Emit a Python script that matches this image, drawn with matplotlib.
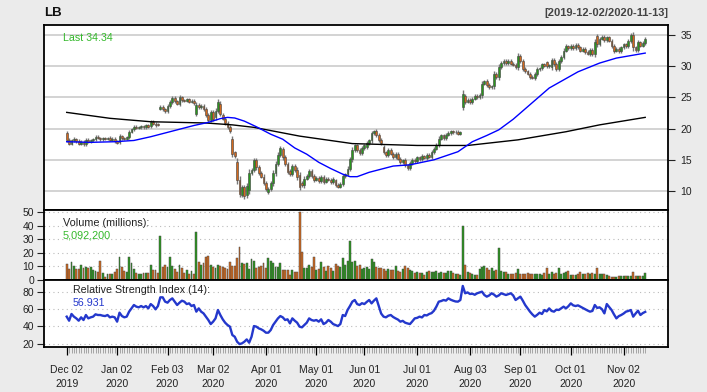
import numpy as np
import pandas as pd
import matplotlib
matplotlib.use("Agg")
import matplotlib.pyplot as plt

plt.rcParams["font.family"] = ["Liberation Sans", "DejaVu Sans"]

# trading days shown on the chart
holidays = ["2019-12-25", "2020-01-01", "2020-01-20", "2020-02-17", "2020-04-10",
            "2020-05-25", "2020-07-03", "2020-09-07"]
dates = pd.bdate_range("2019-12-02", "2020-11-13")
dates = dates[~dates.isin(pd.to_datetime(holidays))]

opens = [
    19.3, 18.2, 17.6, 18.1, 18.3, 18.0, 17.6, 17.9, 17.5, 18.2, 17.9, 18.1, 18.3, 18.7, 18.5, 18.3, 18.5, 18.4, 18.5, 18.2, 18.4,
    18.0, 17.9, 18.8, 18.5, 18.4, 18.6, 19.5, 19.9, 20.3, 20.1, 20.2, 20.4, 20.2, 20.5, 20.4, 21.1, 20.8, 20.7, 23.2, 23.5, 23.1,
    22.8, 23.6, 24.3, 24.9, 24.4, 24.0, 25.0, 24.6, 24.5, 24.7, 24.3, 24.5, 22.4, 23.8, 23.4, 23.7, 23.1, 22.2, 21.4,
    22.6, 21.8, 22.9, 24.0, 22.2, 21.6, 20.9, 20.3, 18.3, 16.2, 14.6, 11.8, 9.4, 10.6, 9.3, 10.2, 12.9, 13.4, 14.9, 13.8, 12.9, 12.3,
    11.3, 9.8, 10.4, 11.3, 12.9, 14.4, 15.8, 16.7, 15.4, 14.3, 13.2, 12.8, 14.0, 13.4, 12.6, 11.3, 10.9, 12.0, 12.4, 13.2, 12.4,
    11.8, 12.1, 11.6, 12.2, 11.5, 12.0, 11.8, 11.4, 11.7, 11.0, 10.7, 11.2, 12.4, 12.7, 13.6, 15.1, 16.6, 17.3, 16.6, 16.1,
    16.9, 17.1, 17.7, 18.1, 19.3, 19.6, 19.0, 18.2, 17.0, 16.2, 15.8, 16.6, 16.0, 15.4, 15.9, 15.2, 14.6, 14.9, 14.1, 13.7, 14.5, 15.0,
    14.8, 15.4, 15.1, 15.6, 15.3, 15.8, 15.5, 16.2, 16.8, 17.4, 18.4, 18.9, 18.5, 19.0, 19.3, 19.6, 19.4, 19.5, 19.2, 23.5, 25.2, 24.3,
    24.6, 24.2, 24.8, 25.3, 25.0, 25.4, 27.2, 27.6, 27.0, 26.6, 26.8, 28.8, 28.2, 29.9, 30.5, 30.9, 30.5, 30.9, 30.4, 30.2, 29.8,
    31.6, 30.8, 29.6, 29.2, 28.8, 28.3, 28.1, 28.8, 29.5, 29.7, 30.3, 30.6, 30.0, 29.8, 31.0, 30.3, 29.6, 30.8, 31.5, 32.5, 33.2,
    32.9, 33.3, 32.9, 33.4, 33.0, 32.5, 32.8, 32.3, 32.0, 32.6, 32.0, 34.8, 33.5, 34.4, 34.7, 34.2, 34.6, 34.1, 33.3, 32.5, 32.8, 32.4,
    33.0, 33.5, 33.2, 34.0, 35.0, 33.0, 32.6, 33.8, 33.3, 33.7,
]
closes = [
    18.2, 17.6, 18.1, 18.4, 18.0, 17.6, 17.9, 17.5, 18.2, 17.9, 18.1, 18.3, 18.7, 18.5, 18.3, 18.5, 18.4, 18.5, 18.2, 18.4, 18.0,
    17.7, 18.8, 18.5, 18.4, 18.6, 19.5, 19.9, 20.3, 20.1, 20.2, 20.4, 20.2, 20.5, 20.3, 21.1, 20.8, 20.5, 20.6, 23.5, 23.1, 22.8,
    23.6, 24.3, 24.9, 24.4, 24.0, 25.0, 24.6, 24.5, 24.7, 24.3, 24.5, 24.1, 23.8, 23.4, 23.7, 23.1, 22.2, 21.4, 22.6,
    21.6, 22.9, 24.3, 22.4, 21.6, 20.9, 20.2, 19.6, 16.0, 15.6, 11.8, 9.6, 10.6, 9.2, 10.8, 12.9, 13.4, 14.9, 13.8, 12.9, 12.3, 11.3,
    10.3, 10.4, 11.3, 12.9, 14.4, 15.8, 16.9, 15.4, 14.3, 13.1, 12.7, 14.0, 13.4, 12.2, 10.7, 10.9, 12.0, 12.4, 13.2, 12.4, 11.8,
    12.1, 11.6, 12.2, 11.5, 12.0, 11.8, 11.4, 11.9, 11.0, 10.7, 11.2, 12.4, 12.7, 13.6, 15.1, 16.6, 17.3, 16.6, 16.1, 16.9,
    17.3, 17.7, 18.1, 19.3, 19.6, 19.0, 18.2, 17.7, 16.2, 15.7, 16.6, 16.0, 15.4, 15.9, 15.2, 14.6, 14.9, 14.1, 13.7, 14.5, 15.0, 14.8,
    15.4, 15.1, 15.6, 15.3, 15.8, 15.5, 16.2, 16.8, 17.4, 18.4, 18.9, 18.5, 19.0, 19.3, 19.6, 19.4, 19.5, 19.2, 19.4, 25.6, 24.3, 24.6,
    24.2, 24.8, 25.3, 25.0, 25.4, 27.2, 27.6, 27.0, 26.6, 26.8, 28.8, 28.2, 29.9, 30.5, 30.9, 30.5, 30.9, 30.4, 30.2, 29.8, 31.6,
    30.8, 29.6, 29.2, 28.8, 28.3, 28.1, 28.8, 29.5, 29.7, 30.3, 30.1, 30.0, 30.2, 31.0, 30.3, 29.6, 30.8, 31.5, 32.5, 33.2, 32.9,
    33.3, 32.9, 33.4, 33.0, 32.5, 32.8, 32.3, 32.0, 32.6, 32.0, 33.9, 33.5, 34.4, 34.7, 34.2, 34.6, 34.1, 33.3, 32.5, 32.8, 32.4, 33.0,
    33.5, 33.2, 34.0, 35.0, 33.0, 32.6, 33.8, 33.3, 33.7, 34.34,
]
# volume in millions
volume = [
    11.8, 8.1, 13.0, 10.3, 7.9, 7.9, 11.0, 8.6, 9.9, 8.6, 9.9, 7.4, 6.9, 6.2, 14.3, 5.4, 2.5, 4.4, 4.4, 4.4, 6.2,
    8.1, 16.7, 9.9, 6.7, 6.2, 16.7, 12.3, 8.1, 4.9, 4.4, 4.4, 5.4, 5.4, 4.9, 11.1, 7.4, 7.4, 4.9, 32.5, 9.9, 11.1,
    9.9, 16.7, 10.3, 7.9, 6.2, 11.1, 9.1, 5.4, 7.4, 4.4, 6.9, 4.4, 35.0, 13.3, 11.1, 12.3, 16.7, 17.7, 11.1,
    9.9, 8.6, 10.8, 10.3, 9.9, 8.6, 7.9, 13.5, 10.3, 10.3, 16.0, 24.6, 12.3, 11.8, 12.8, 8.1, 15.3, 14.3, 8.6, 9.9, 10.3, 12.3,
    8.6, 16.0, 14.0, 12.3, 9.9, 9.9, 12.3, 7.4, 7.4, 7.4, 3.7, 7.4, 6.2, 6.2, 50.0, 20.4, 8.6, 9.1, 11.1, 9.9, 17.2,
    7.4, 8.1, 13.5, 9.9, 6.9, 10.3, 8.6, 6.7, 11.6, 10.6, 9.9, 16.0, 11.1, 14.3, 29.0, 13.0, 14.0, 10.6, 11.1, 8.1,
    8.6, 9.9, 7.9, 15.3, 13.5, 9.9, 8.6, 8.6, 8.1, 6.9, 7.9, 7.4, 7.4, 10.3, 6.9, 6.2, 7.9, 10.3, 8.6, 7.4, 6.7, 5.4,
    6.2, 5.4, 4.9, 3.7, 6.2, 6.9, 6.2, 6.2, 6.7, 5.4, 6.2, 4.9, 5.4, 6.7, 6.7, 5.4, 4.4, 4.4, 4.0, 39.4, 11.1, 6.2,
    5.4, 4.4, 3.7, 3.7, 7.8, 9.8, 10.3, 8.6, 7.4, 8.8, 6.9, 7.4, 23.4, 6.9, 6.1, 6.1, 4.4, 4.4, 4.4, 4.9, 7.8,
    4.4, 4.4, 4.4, 4.9, 4.4, 4.4, 4.4, 4.2, 4.2, 3.7, 4.9, 8.6, 4.4, 6.1, 4.4, 4.9, 8.6, 4.4, 5.4, 6.1, 6.6,
    3.7, 3.7, 3.7, 4.4, 6.1, 4.4, 4.4, 4.9, 4.4, 5.4, 4.4, 8.6, 4.4, 4.4, 4.4, 3.7, 3.2, 2.0, 2.0, 2.5, 3.2, 3.2,
    3.2, 3.2, 3.2, 3.2, 5.9, 3.2, 3.2, 3.2, 3.2, 5.0922,
]
rsi = [
    51.4, 46.7, 54.5, 51.4, 49.4, 46.7, 50.6, 47.5, 53.3, 49.4, 50.6, 51.4, 54.1, 53.3, 53.3, 52.5, 52.1, 53.3, 50.6, 51.4, 50.6,
    45.6, 56.0, 52.1, 50.6, 51.4, 57.2, 61.0, 64.9, 63.0, 62.2, 63.7, 62.2, 63.7, 61.0, 66.0, 63.7, 59.9, 63.7, 73.8, 73.8, 68.8,
    67.6, 70.7, 72.6, 68.8, 64.9, 67.6, 69.9, 68.8, 66.0, 66.8, 63.7, 64.9, 57.2, 61.0, 57.2, 55.2, 51.4, 47.5, 42.8,
    45.6, 49.4, 59.1, 53.3, 48.3, 44.4, 41.7, 39.8, 30.1, 28.1, 22.3, 19.6, 20.4, 22.3, 25.0, 21.2, 28.1, 40.5, 39.8, 37.8, 36.7, 35.1,
    32.8, 32.8, 35.9, 41.7, 45.6, 49.4, 52.1, 50.6, 47.5, 48.3, 43.6, 49.4, 46.7, 44.4, 39.8, 39.0, 41.7, 44.4, 49.4, 47.5, 46.7,
    47.5, 45.6, 48.3, 42.8, 44.4, 47.5, 45.6, 42.8, 41.7, 40.5, 42.8, 53.3, 52.1, 59.1, 63.7, 68.8, 70.7, 66.0, 64.9, 67.0,
    66.0, 68.5, 70.7, 66.8, 70.0, 72.6, 63.7, 55.0, 51.4, 50.6, 52.5, 53.3, 51.0, 49.4, 48.0, 45.6, 46.5, 44.4, 43.5, 42.8, 46.0, 49.4,
    50.0, 51.4, 50.5, 53.3, 52.8, 54.5, 55.5, 58.3, 63.0, 68.8, 69.5, 70.7, 70.0, 72.6, 71.0, 69.9, 69.0, 68.8, 70.7, 87.0, 78.5, 79.5,
    77.7, 78.0, 76.8, 78.5, 79.5, 80.4, 76.5, 74.6, 76.0, 78.5, 77.0, 74.6, 76.0, 78.5, 77.5, 76.5, 77.5, 78.5, 76.0, 70.7, 72.6,
    74.6, 70.0, 64.9, 61.0, 57.2, 54.0, 51.4, 53.5, 56.0, 54.5, 59.1, 57.5, 61.0, 58.0, 57.2, 59.5, 59.1, 61.0, 63.0, 61.0, 63.5,
    66.8, 64.5, 63.7, 64.5, 63.0, 61.5, 59.9, 58.5, 57.2, 58.0, 64.9, 61.5, 62.2, 60.0, 55.2, 66.0, 62.5, 59.1, 54.0, 49.4, 52.0, 53.3,
    55.0, 57.2, 58.0, 59.1, 51.4, 55.0, 58.3, 53.3, 55.5, 56.931,
]
# moving averages (read at a few days)
sma50_day = [0, 10, 20, 28, 35, 40, 46, 53, 59, 64, 67, 70, 74, 79, 85, 90, 95, 100, 105, 110, 115, 118,
             121, 126, 136, 143, 153, 163, 169, 175, 180, 186, 192, 201, 207, 213, 222, 229, 241]
sma50 = [17.9, 17.8, 17.9, 18.1, 18.7, 19.2, 19.8, 20.5, 21.0, 21.6, 21.8, 21.7, 21.2, 20.3, 19.1, 18.3, 16.9,
         15.9, 14.6, 13.6, 12.7, 12.3, 12.3, 13.0, 14.0, 14.2, 15.0, 16.3, 17.9, 18.9, 19.8, 21.5, 23.5, 26.5,
         27.8, 29.1, 30.5, 31.3, 32.1]
sma200_day = [0, 18, 35, 58, 69, 78, 97, 119, 146, 167, 188, 208, 222, 241]
sma200 = [22.6, 21.65, 21.1, 20.9, 20.6, 20.2, 18.8, 17.6, 17.3, 17.3, 18.2, 19.5, 20.6, 21.8]

up_col = "#2A961E"
dn_col = "#D2691E"

x = np.arange(len(dates))
o = np.array(opens)
c = np.array(closes)
hi = np.maximum(o, c) + 0.2 + 0.15 * np.abs(c - o)
lo = np.minimum(o, c) - 0.2 - 0.15 * np.abs(c - o)
cols = np.where(c >= o, up_col, dn_col)

W, H = 707, 392
fig = plt.figure(figsize=(W / 100, H / 100), dpi=100, facecolor="#EBEBEB")
left, width = 44 / W, 624 / W
ax1 = fig.add_axes([left, 1 - 210 / H, width, 185 / H])
ax2 = fig.add_axes([left, 1 - 280 / H, width, 70 / H], sharex=ax1)
ax3 = fig.add_axes([left, 1 - 347 / H, width, 67 / H], sharex=ax1)

# price panel
for v in [10, 15, 20, 25, 30, 35]:
    ax1.axhline(v, color="#D3D3D3", lw=1.4, zorder=0)
ax1.vlines(x, lo, hi, color="#777777", lw=1.0, zorder=2)
ax1.bar(x, np.maximum(np.abs(c - o), 0.06), bottom=np.minimum(o, c), width=0.75,
        color=cols, edgecolor="#444444", linewidth=0.4, zorder=3)
ax1.plot(sma200_day, sma200, color="black", lw=1.0, zorder=4)
ax1.plot(sma50_day, sma50, color="#0000FF", lw=1.0, zorder=4)
ax1.set_ylim(6.96, 36.6)
ax1.set_yticks([10, 15, 20, 25, 30, 35])
ax1.yaxis.tick_right()

# volume panel
for v in [0, 10, 20, 30, 40, 50]:
    ax2.axhline(v, color="#BBBBBB", lw=0.8, ls=(0, (1, 3)), zorder=0)
ax2.bar(x, volume, width=0.8, color=cols, edgecolor="#4a4a4a", linewidth=0.35, zorder=2)
ax2.set_ylim(0, 51.5)
ax2.set_yticks([0, 10, 20, 30, 40, 50])

# RSI panel
for v in [20, 40, 60, 80]:
    ax3.axhline(v, color="#BBBBBB", lw=0.8, ls=(0, (1, 3)), zorder=0)
ax3.plot(x, rsi, color="#2438CC", lw=1.7, zorder=2)
ax3.set_ylim(16.2, 93.9)
ax3.set_yticks([20, 40, 60, 80])

for ax in (ax1, ax2, ax3):
    ax.set_facecolor("white")
    for s in ax.spines.values():
        s.set_linewidth(1.3)
        s.set_color("black")
    ax.tick_params(axis="y", labelsize=7.5, length=5, width=0.8, pad=2, colors="#222222")
    ax.tick_params(axis="x", which="both", bottom=False, labelbottom=False)
ax1.tick_params(axis="y", pad=4)

ax1.set_xlim(-9.46, 250.5)
month_pos = [i for i in range(len(dates)) if i == 0 or dates[i].month != dates[i - 1].month]
month_lab = [dates[i].strftime("%b %d") + "\n" + dates[i].strftime("%Y") for i in month_pos]
ax3.set_xticks(month_pos)
ax3.set_xticklabels(month_lab, linespacing=1.45)
ax3.set_xticks(x, minor=True)
ax3.tick_params(axis="x", which="major", bottom=True, labelbottom=True, length=6, width=0.9,
                color="black", labelsize=7.5, labelcolor="#222222", pad=7)
ax3.tick_params(axis="x", which="minor", bottom=True, length=4.5, width=0.5, color="#888888")


def ftext(px, py, s, **kw):
    fig.text(px / W, 1 - py / H, s, va="center", **kw)


ftext(44, 12.5, "LB", ha="left", fontsize=9.5, fontweight="bold", color="#111111")
ftext(668, 13.5, "[2019-12-02/2020-11-13]", ha="right", fontsize=8, fontweight="bold", color="#444444")
ftext(63, 38, "Last 34.34", ha="left", fontsize=7.7, color="#33B82A")
ftext(63, 223, "Volume (millions):", ha="left", fontsize=7.8, color="#222222")
ftext(63, 236, "5,092,200", ha="left", fontsize=7.8, color="#33B82A")
ftext(73, 290, "Relative Strength Index (14):", ha="left", fontsize=7.7, color="#222222")
ftext(73, 303, "56.931", ha="left", fontsize=7.7, color="#2438CC")

fig.savefig("out.png", dpi=100, facecolor=fig.get_facecolor())
